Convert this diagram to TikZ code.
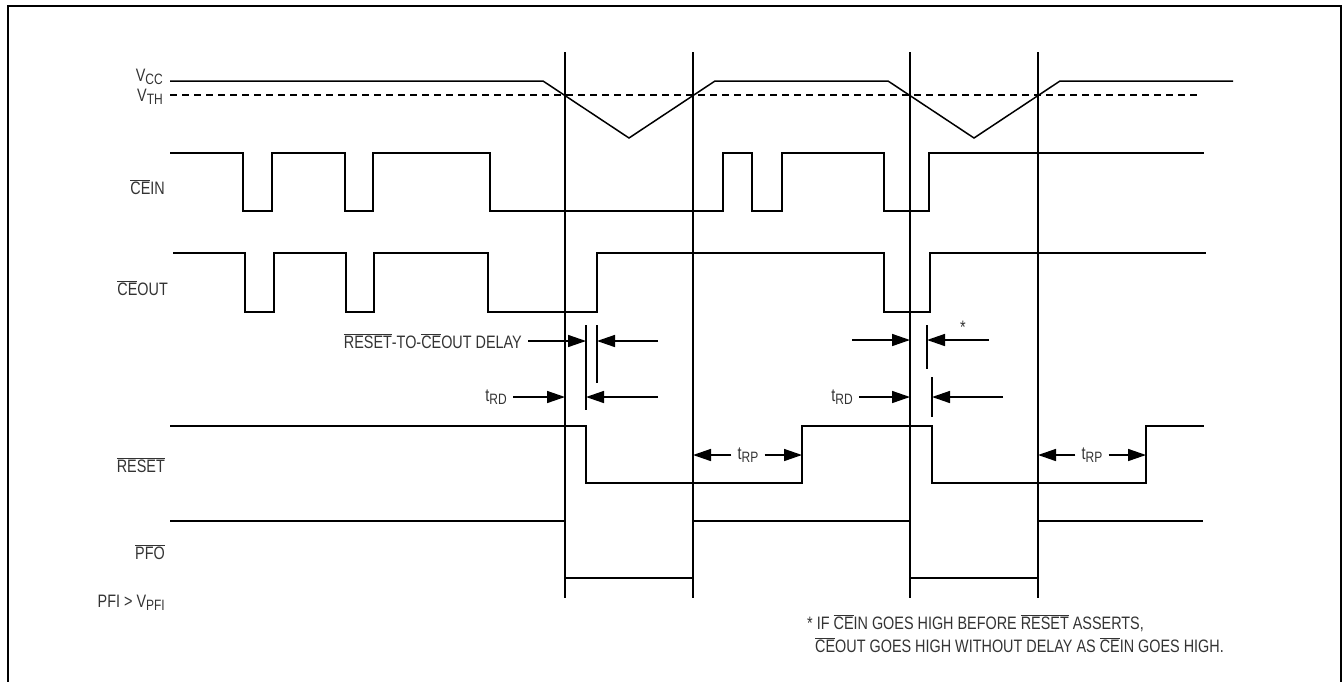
\documentclass[tikz,border=0pt]{standalone}
\usepackage{fontspec}
\setmainfont[FakeStretch=0.8]{Liberation Sans}
\usetikzlibrary{arrows.meta}

\newcommand{\nbar}[1]{$\overline{\mbox{#1}}$}
\newcommand{\lsub}[1]{\raisebox{-0.35ex}{\fontsize{15}{15}\selectfont #1}}

\begin{document}
\begin{tikzpicture}[
        x = 1pt, y = -1pt,
        line join = miter,
        sig/.style = {line width=1.5pt},
        guide/.style = {line width=1.4pt},
        tick/.style = {line width=1.4pt},
        dim/.style = {line width=1.5pt, -{Triangle[length=18pt,width=12pt]}},
        lbl/.style = {font=\fontsize{18}{20}\selectfont, text=black!80, inner sep=0pt},
        dimlbl/.style = {lbl, inner sep=6pt}
    ]
        \useasboundingbox (0,0) rectangle (1343,681);
        \draw[line width=2.5pt] (8,690) -- (8,6) -- (1341,6) -- (1341,690);

        % power fail window
        \foreach \x in {565,693,910,1038}
            \draw[guide] (\x,52) -- (\x,598);

        % supply
        \draw[sig] (170,81) -- (543,81) -- (629,138) -- (715,81) -- (888,81) -- (974,138) -- (1060,81) -- (1233,81);
        \draw[sig, dash pattern=on 7pt off 5pt] (170,95) -- (1198,95);

        % chip enable in / out
        \draw[sig] (170,153) -| (243,211) -| (272,153) -| (345,211) -| (373,153) -| (490,211) -| (723,153)
            -| (752,211) -| (782,153) -| (884,211) -| (929,153) -- (1204,153);
        \draw[sig] (173,253) -| (245,312) -| (274,253) -| (346,312) -| (374,253) -| (488,312) -| (597,253)
            -| (884,312) -| (930,253) -- (1206,253);

        % reset and pfo
        \draw[sig] (170,426) -| (586,483) -| (802,426) -| (932,483) -| (1146,426) -- (1204,426);
        \draw[sig] (170,521) -| (565,578) -| (693,521) -| (910,578) -| (1038,521) -- (1203,521);

        % signal names
        \node[lbl, anchor=east] (vcc) at (163,77) {V\lsub{CC}};
        \node[lbl, anchor=east] (vth) at (163,97) {V\lsub{TH}};
        \node[lbl, anchor=east] (cein) at (165,187) {\nbar{CE}IN};
        \node[lbl, anchor=east] (ceout) at (168,288) {\nbar{CE}OUT};
        \node[lbl, anchor=east] (rst) at (165,465) {\nbar{RESET}};
        \node[lbl, anchor=east] (pfo) at (165,552) {\nbar{PFO}};
        \node[lbl, anchor=east] (pfi) at (165,603) {PFI > V\lsub{PFI}};

        % delay markers
        \draw[tick] (586,325) -- (586,410);
        \draw[tick] (597,325) -- (597,383);
        \draw[tick] (927,325) -- (927,369);
        \draw[tick] (932,377) -- (932,417);

        \node[dimlbl, anchor=east] (dly) at (528,341) {\nbar{RESET}-TO-\nbar{CE}OUT DELAY};
        \draw[dim] (dly) -- (586,341);
        \draw[dim] (658,341) -- (597,341);
        \node[dimlbl, anchor=east] (trd1) at (513,397) {t\lsub{RD}};
        \draw[dim] (trd1) -- (565,397);
        \draw[dim] (658,397) -- (586,397);

        \draw[dim] (852,340) -- (910,340);
        \draw[dim] (989,340) -- (927,340);
        \node[lbl] (star) at (963,327) {*};
        \node[dimlbl, anchor=east] (trd2) at (859,397) {t\lsub{RD}};
        \draw[dim] (trd2) -- (910,397);
        \draw[dim] (1003,397) -- (932,397);

        \node[dimlbl] (trp1) at (748,455) {t\lsub{RP}};
        \draw[dim] (trp1) -- (693,455);
        \draw[dim] (trp1) -- (802,455);
        \node[dimlbl] (trp2) at (1092,455) {t\lsub{RP}};
        \draw[dim] (trp2) -- (1038,455);
        \draw[dim] (trp2) -- (1146,455);

        % footnote
        \node[lbl, anchor=base west] (note1) at (807,629) {* IF \nbar{CE}IN GOES HIGH BEFORE \nbar{RESET} ASSERTS,};
        \node[lbl, anchor=base west] (note2) at (815,652) {\nbar{CE}OUT GOES HIGH WITHOUT DELAY AS \nbar{CE}IN GOES HIGH.};

    \end{tikzpicture}
\end{document}
